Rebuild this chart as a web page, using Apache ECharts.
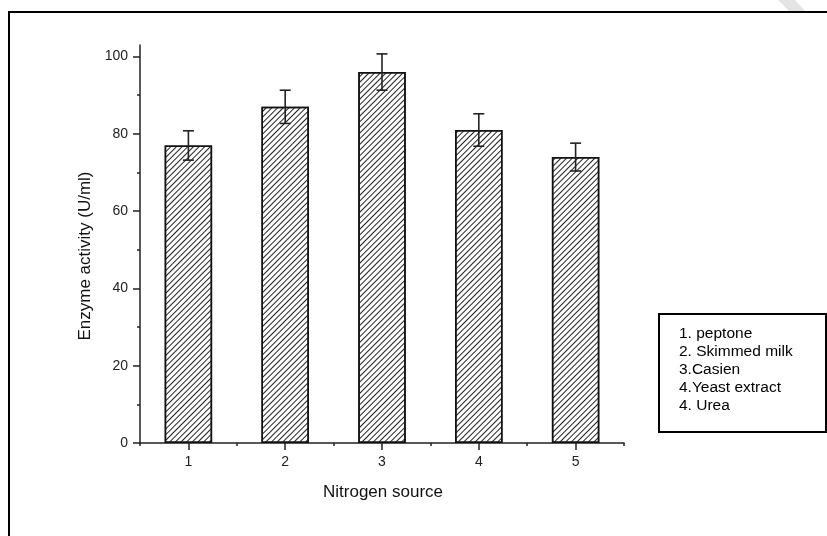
<!DOCTYPE html>
<html>
<head>
    <meta charset="utf-8">
    <title>Nitrogen source</title>
    <script src="https://cdn.jsdelivr.net/npm/echarts@6/dist/echarts.min.js"></script>
    <style>
        html, body { margin: 0; padding: 0; background: #fff; }
    </style>
</head>
<body>
    <div id="main" style="width: 827px;height:536px;"></div>
    <script type="text/javascript">

// data
var categories = ['1', '2', '3', '4', '5'];
var activity = [77, 87, 96, 81, 74];
var errors = [3.8, 4.3, 4.7, 4.2, 3.6];
var yTicks = [0, 20, 40, 60, 80, 100];
var yMinorTicks = [10, 30, 50, 70, 90];
var legendLines = ['1. peptone', '2. Skimmed milk', '3.Casien', '4.Yeast extract', '4. Urea'];

var font = '"Liberation Sans", Arial, sans-serif';

// error bar rows: [index, low, high]
var errData = activity.map(function (v, i) {
    return [i, v - errors[i], v + errors[i]];
});

var myChart = echarts.init(document.getElementById('main'));

var legendText = legendLines.map(function (s, i) {
    return {
        type: 'text',
        left: 679,
        top: 326 + i * 18,
        style: { text: s, font: '15.5px ' + font, fill: '#000' }
    };
});

var option = {
    backgroundColor: '#fff',
    animation: false,
    grid: { left: 140, right: 203, top: 45, bottom: 93 },
    xAxis: [{
        type: 'category',
        data: categories,
        axisLine: { lineStyle: { color: '#222', width: 1.5 } },
        axisTick: { show: true, alignWithLabel: true, length: 7, lineStyle: { color: '#222', width: 1.5 } },
        axisLabel: { color: '#222', fontSize: 14, fontFamily: font, margin: 12 },
        splitLine: { show: false }
    }, {
        type: 'category',
        data: categories,
        position: 'bottom',
        offset: 0,
        axisLine: { show: false },
        axisTick: { show: true, alignWithLabel: false, length: 3, lineStyle: { color: '#222', width: 1.5 } },
        axisLabel: { show: false },
        splitLine: { show: false }
    }],
    yAxis: [{
        type: 'value',
        min: 0,
        max: 103,
        axisLine: { show: true, lineStyle: { color: '#222', width: 1.5 } },
        axisTick: { show: true, customValues: yTicks, length: 7, lineStyle: { color: '#222', width: 1.5 } },
        axisLabel: { customValues: yTicks, color: '#222', fontSize: 14, fontFamily: font, margin: 12 },
        splitLine: { show: false }
    }, {
        type: 'value',
        min: 0,
        max: 103,
        position: 'left',
        axisLine: { show: false },
        axisTick: { show: true, customValues: yMinorTicks, length: 3, lineStyle: { color: '#222', width: 1.5 } },
        axisLabel: { show: false },
        splitLine: { show: false }
    }],
    series: [{
        name: 'Enzyme activity',
        type: 'bar',
        data: activity,
        barWidth: '49%',
        itemStyle: {
            color: '#fff',
            borderColor: '#111',
            borderWidth: 1.5,
            decal: {
                symbol: 'rect',
                symbolSize: 1,
                color: '#222',
                dashArrayX: [1, 0],
                dashArrayY: [1, 3],
                rotation: -Math.PI / 4
            }
        }
    }, {
        name: 'error',
        type: 'custom',
        data: errData,
        z: 10,
        renderItem: function (params, api) {
            var lo = api.coord([api.value(0), api.value(1)]);
            var hi = api.coord([api.value(0), api.value(2)]);
            var w = 5.5;
            var st = { stroke: '#222', lineWidth: 1.6 };
            return {
                type: 'group',
                children: [
                    { type: 'line', shape: { x1: hi[0], y1: hi[1], x2: lo[0], y2: lo[1] }, style: st },
                    { type: 'line', shape: { x1: hi[0] - w, y1: hi[1], x2: hi[0] + w, y2: hi[1] }, style: st },
                    { type: 'line', shape: { x1: lo[0] - w, y1: lo[1], x2: lo[0] + w, y2: lo[1] }, style: st }
                ]
            };
        }
    }],
    graphic: [
        // outer frame of the figure
        { type: 'rect', shape: { x: 9, y: 12, width: 900, height: 600 }, style: { fill: null, stroke: '#000', lineWidth: 2 } },
        // faint watermark stroke, top right
        { type: 'polygon', shape: { points: [[778, 0], [795, 0], [805, 11], [789, 11]] }, style: { fill: '#e4e4e4' } },
        // axis titles
        {
            type: 'text', x: 85, y: 256, rotation: Math.PI / 2,
            style: { text: 'Enzyme activity (U/ml)', font: '17px ' + font, fill: '#111', align: 'center', verticalAlign: 'middle' }
        },
        {
            type: 'text', x: 383, y: 492,
            style: { text: 'Nitrogen source', font: '17px ' + font, fill: '#111', align: 'center', verticalAlign: 'middle' }
        },
        // legend box
        { type: 'rect', shape: { x: 659, y: 314, width: 167, height: 118 }, style: { fill: '#fff', stroke: '#000', lineWidth: 2 } }
    ].concat(legendText)
};

myChart.setOption(option);

    </script>
</body>
</html>
